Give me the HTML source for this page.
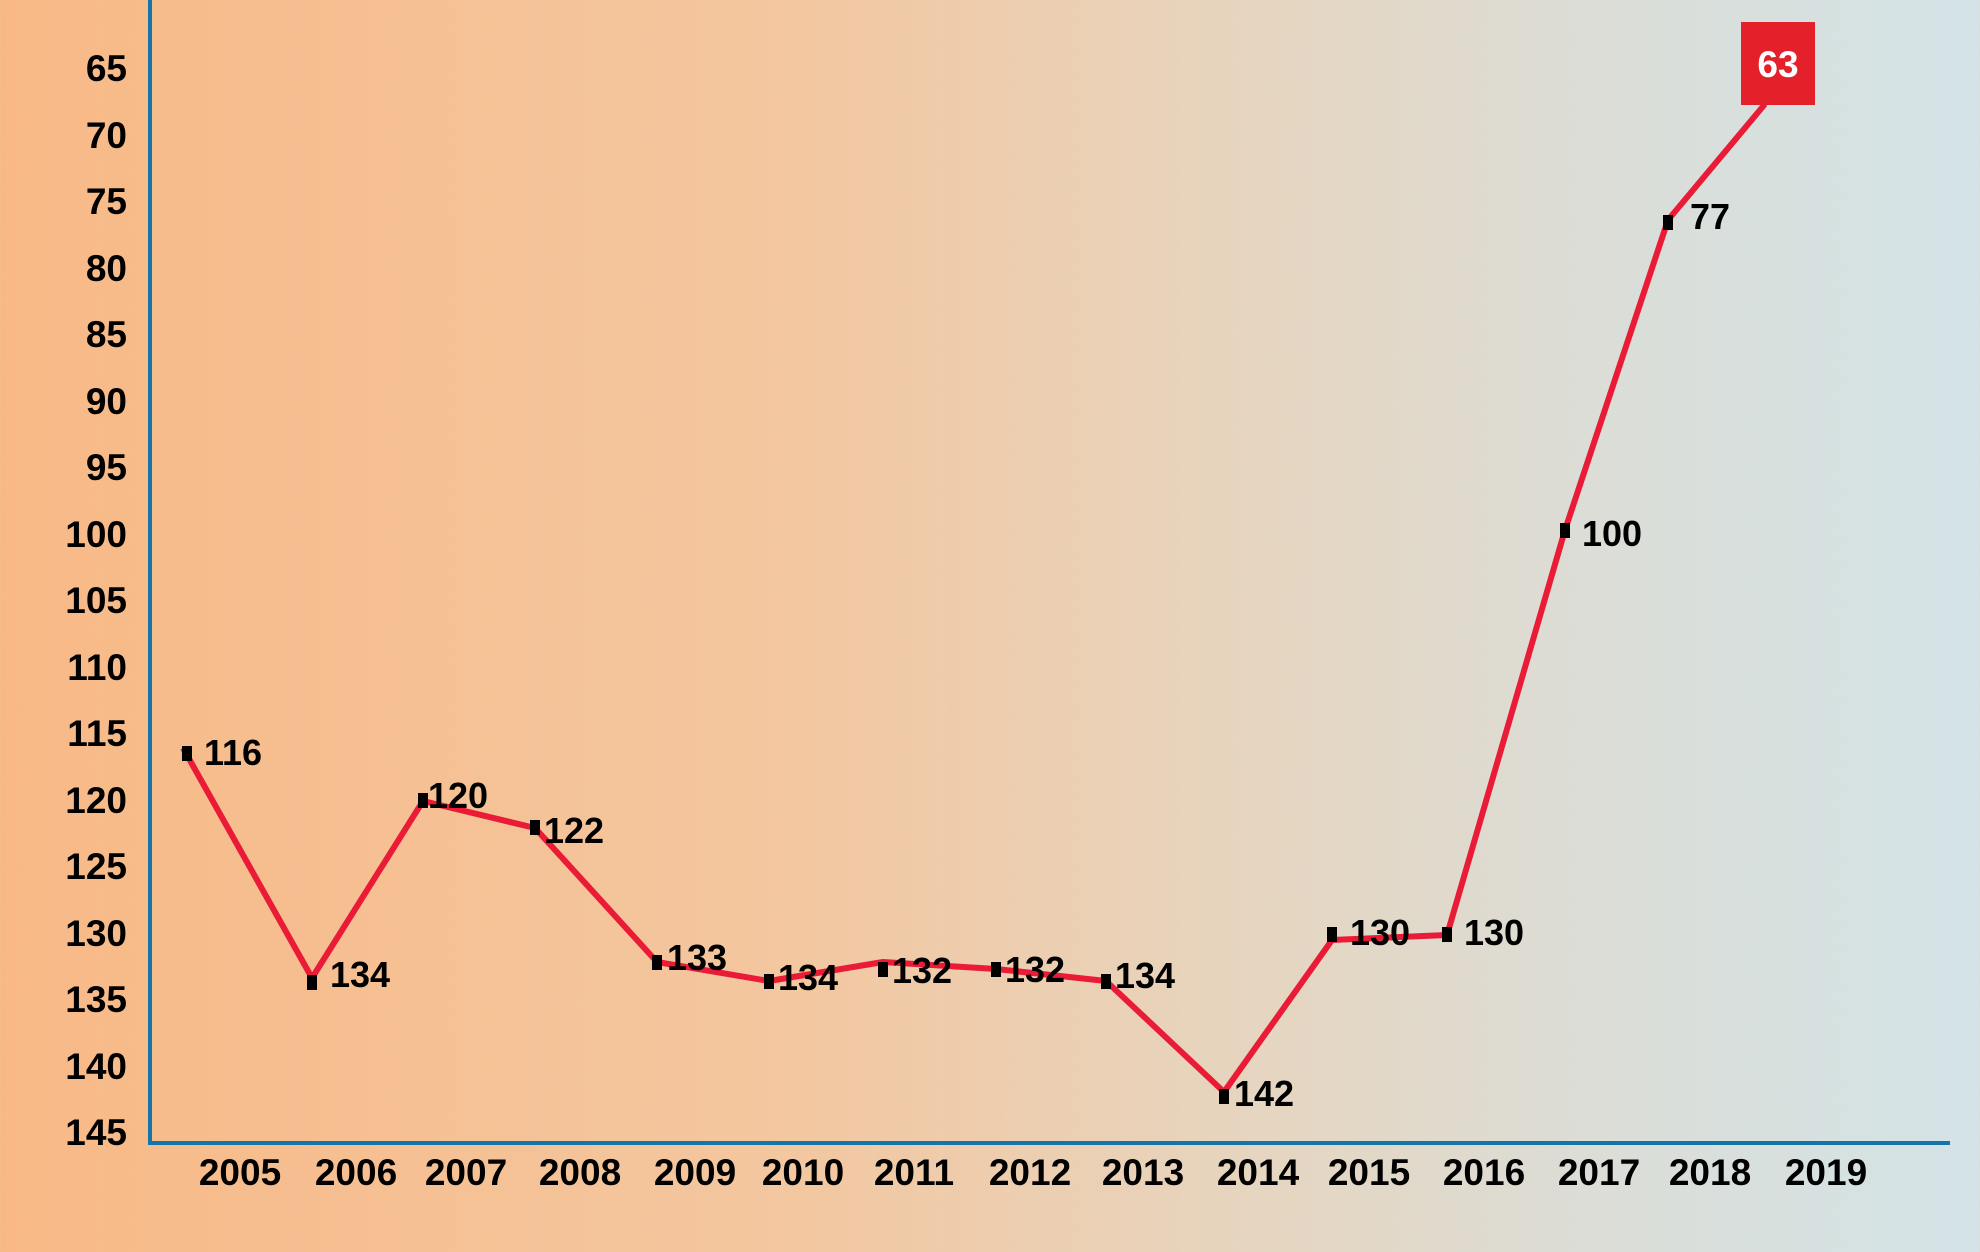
<!DOCTYPE html>
<html><head><meta charset="utf-8"><style>
html,body{margin:0;padding:0}
body{width:1980px;height:1247px;background:linear-gradient(90deg,#f8b986 0%,#f3c7a0 40%,#e5d6c2 65%,#dcddd6 80%,#d3e3e7 100%);overflow:hidden}
svg text{font-family:"Liberation Sans",sans-serif;font-weight:bold;fill:#000}
</style></head><body>
<svg width="1980" height="1247" viewBox="0 0 1980 1247">
<g font-size="37" text-anchor="end">
<text x="127" y="81">65</text><text x="127" y="148">70</text><text x="127" y="214">75</text><text x="127" y="281">80</text>
<text x="127" y="347">85</text><text x="127" y="414">90</text><text x="127" y="480">95</text><text x="127" y="547">100</text>
<text x="127" y="613">105</text><text x="127" y="680">110</text><text x="127" y="746">115</text><text x="127" y="813">120</text>
<text x="127" y="879">125</text><text x="127" y="946">130</text><text x="127" y="1012">135</text><text x="127" y="1079">140</text>
<text x="127" y="1145">145</text>
</g>
<line x1="150" y1="0" x2="150" y2="1145" stroke="#1574a8" stroke-width="4"/>
<line x1="148" y1="1143" x2="1950" y2="1143" stroke="#1574a8" stroke-width="4"/>
<g font-size="37" text-anchor="middle">
<text x="240" y="1185">2005</text><text x="356" y="1185">2006</text><text x="466" y="1185">2007</text><text x="580" y="1185">2008</text>
<text x="695" y="1185">2009</text><text x="803" y="1185">2010</text><text x="914" y="1185">2011</text><text x="1030" y="1185">2012</text>
<text x="1143" y="1185">2013</text><text x="1258" y="1185">2014</text><text x="1369" y="1185">2015</text><text x="1484" y="1185">2016</text>
<text x="1599" y="1185">2017</text><text x="1710" y="1185">2018</text><text x="1826" y="1185">2019</text>
</g>
<polyline fill="none" stroke="#ea1b36" stroke-width="6" stroke-linejoin="round" points="183,748 312,978 423,801 535,828 657,962 769,981 883,962 996,969 1106,981 1224,1092 1332,940 1447,935 1565,530 1668,220 1765,104"/>
<g fill="#000">
<rect x="182" y="746" width="10" height="15"/><rect x="307" y="975" width="10" height="15"/><rect x="418" y="793" width="10" height="15"/>
<rect x="530" y="820" width="10" height="15"/><rect x="652" y="955" width="10" height="15"/><rect x="764" y="974" width="10" height="15"/>
<rect x="878" y="962" width="10" height="15"/><rect x="991" y="962" width="10" height="15"/><rect x="1101" y="974" width="10" height="15"/>
<rect x="1219" y="1089" width="10" height="15"/><rect x="1327" y="927" width="10" height="15"/><rect x="1442" y="927" width="10" height="15"/>
<rect x="1560" y="523" width="10" height="15"/><rect x="1663" y="215" width="10" height="15"/>
</g>
<g font-size="36">
<text x="204" y="765">116</text><text x="330" y="987">134</text><text x="428" y="808">120</text><text x="544" y="843">122</text>
<text x="667" y="970">133</text><text x="778" y="990">134</text><text x="892" y="983">132</text><text x="1005" y="982">132</text>
<text x="1115" y="988">134</text><text x="1234" y="1106">142</text><text x="1350" y="945">130</text><text x="1464" y="945">130</text>
<text x="1582" y="546">100</text><text x="1690" y="229">77</text>
</g>
<rect x="1741" y="22" width="74" height="83" fill="#e4202a"/>
<text x="1778" y="77" font-size="37" text-anchor="middle" style="fill:#fff">63</text>
</svg>
</body></html>
